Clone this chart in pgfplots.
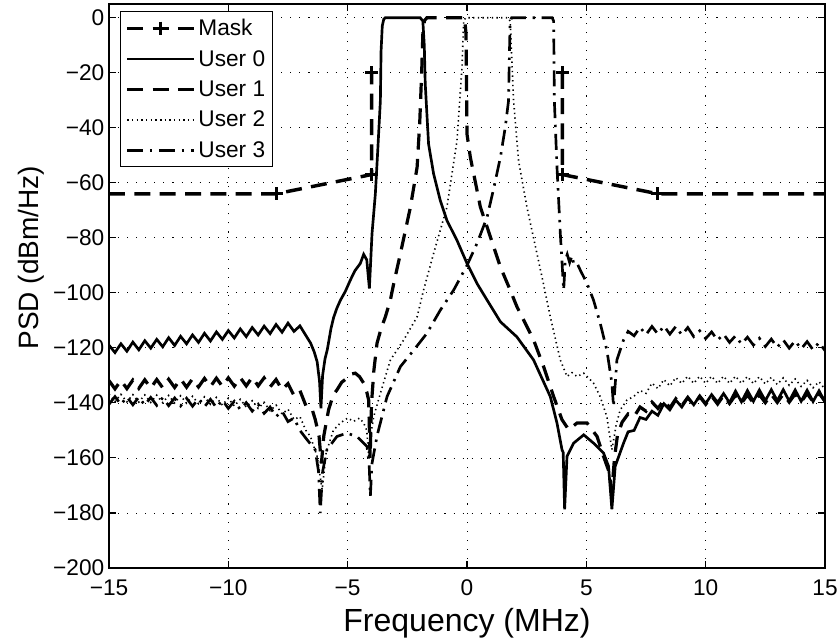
\documentclass[border=0pt]{standalone}
\usepackage{fontspec}
\setmainfont{Liberation Sans}
\usepackage{pgfplots}
\pgfplotsset{compat=1.18}

\begin{document}
\begin{tikzpicture}
\begin{axis}[
    name=ax,
    scale only axis,
    width=537pt, height=423pt,
    xmin=-15, xmax=15, ymin=-200, ymax=5,
    xtick={-15,-10,...,15},
    xticklabels={−15,−10,−5,0,5,10,15},
    ytick={-200,-180,...,0},
    yticklabels={−200,−180,−160,−140,−120,−100,−80,−60,−40,−20,0},
    tick label style={font=\fontsize{17}{20}\selectfont},
    xticklabel style={yshift=-5.5pt},
    tick align=inside, tick pos=both,
    major tick length=5pt,
    every tick/.style={black, line width=0.8pt},
    axis line style={line width=0.9pt},
    grid=major,
    major grid style={black, line width=0.6pt, dash pattern=on 0.8pt off 6pt},
    xlabel={Frequency (MHz)},
    ylabel={PSD (dBm/Hz)},
    xlabel style={font=\fontsize{24}{28}\selectfont, yshift=-2pt},
    ylabel style={font=\fontsize{21}{25}\selectfont, at={(ticklabel cs:0.55)}},
    legend style={at={(0.016,0.987)}, anchor=north west,
        font=\fontsize{17}{20}\selectfont, draw=black, line width=0.7pt,
        row sep=5.5pt, inner sep=3.5pt},
    legend cell align=left,
    legend image code/.code={\draw[mark repeat=2,mark phase=2,#1] plot coordinates {(0pt,0pt) (25pt,0pt) (50pt,0pt)};},
]
\pgfplotsset{
  maskline/.style={black, line width=2.6pt, dash pattern=on 12pt off 7pt, mark=+, mark options={solid, line width=2.2pt, mark size=5pt}},
  u0/.style={black, line width=2pt, solid},
  u1/.style={black, line width=2.4pt, dash pattern=on 12pt off 7pt},
  u2/.style={black, line width=1.2pt, dash pattern=on 1pt off 2.5pt},
  u3/.style={black, line width=2pt, dash pattern=on 12pt off 5pt on 1.8pt off 5pt},
}
\addlegendimage{maskline}

% mask, drawn outside the band only
\addplot[maskline, forget plot, mark indices={2,4,5}] coordinates {
(-15,-64) (-8,-64) (-6,-60.5) (-4,-57) (-4,-20)};
\addplot[maskline, forget plot, mark indices={1,2,4}] coordinates {
(4,-20) (4,-57) (6,-60.5) (8,-64) (15,-64)};

% User 0
\addplot[u0] coordinates {
(-15.00,-119.0) (-14.75,-121.7) (-14.50,-118.5) (-14.25,-121.2) (-14.00,-117.9)
(-13.75,-120.7) (-13.50,-117.4) (-13.25,-120.1) (-13.00,-116.9) (-12.75,-119.6)
(-12.50,-116.3) (-12.25,-119.1) (-12.00,-115.8) (-11.75,-118.5) (-11.50,-115.3)
(-11.25,-118.0) (-11.00,-114.7) (-10.75,-117.5) (-10.50,-114.2) (-10.25,-116.9)
(-10.00,-113.7) (-9.75,-116.4) (-9.50,-113.1) (-9.25,-115.9) (-9.00,-112.6)
(-8.75,-115.3) (-8.50,-112.1) (-8.25,-114.8) (-8.00,-111.5) (-7.75,-114.3)
(-7.50,-111.0) (-7.25,-114.0) (-7.00,-112.0) (-6.75,-115.5) (-6.55,-118.3)
(-6.40,-121.5) (-6.28,-125) (-6.18,-132) (-6.12,-142) (-6.05,-130)
(-5.95,-124) (-5.85,-120.5) (-5.70,-113) (-5.59,-109) (-5.45,-105.5)
(-5.30,-102.6) (-5.10,-99.5) (-4.89,-95.4) (-4.70,-92) (-4.47,-89.3)
(-4.33,-86) (-4.20,-88) (-4.09,-98.4) (-3.98,-78.5) (-3.84,-64)
(-3.74,-48.3) (-3.63,-30.2) (-3.60,-12) (-3.55,-3) (-3.49,-0.6)
(-3.42,0) (-1.96,0) (-1.85,-1.2) (-1.79,-10) (-1.75,-24)
(-1.61,-45.9) (-1.40,-56.7) (-1.12,-66.4) (-0.84,-73.7) (-0.42,-80.9)
(0,-89.3) (0.42,-96.6) (0.84,-102.6) (1.40,-110.5) (2.09,-116)
(2.79,-124.4) (3.49,-137.7) (3.77,-147.3) (3.98,-157) (4.03,-158)
(4.09,-178.7) (4.19,-159.4) (4.47,-154.6) (4.89,-151.6) (5.30,-154.6)
(5.72,-158.2) (5.93,-163) (6.07,-178.7) (6.21,-163) (6.56,-154.6)
(6.75,-150.5) (7.00,-150) (7.25,-145.3) (7.50,-146) (7.75,-143)
(8.00,-144.5) (8.25,-140.3) (8.50,-142.5) (8.75,-139) (9.00,-141.5)
(9.25,-138.1) (9.50,-140.7) (9.75,-137.4) (10.00,-140.2) (10.25,-137)
(10.50,-139.8) (10.75,-136.6) (11.00,-139.9) (11.25,-135.7) (11.50,-139.6)
(11.75,-135.5) (12.00,-139.4) (12.25,-135.3) (12.50,-139.2) (12.75,-135.2)
(13.00,-139.2) (13.25,-135.2) (13.50,-139.3) (13.75,-135.3) (14.00,-139.4)
(14.25,-135.4) (14.50,-139.5) (14.75,-135.6) (15.00,-139.7)};

% User 1
\addplot[u1] coordinates {
(-15.00,-131.9) (-14.75,-134.9) (-14.50,-131.8) (-14.25,-134.8) (-14.00,-131.7)
(-13.75,-134.7) (-13.50,-131.6) (-13.25,-134.6) (-13.00,-131.5) (-12.75,-134.5)
(-12.50,-131.4) (-12.25,-134.4) (-12.00,-131.3) (-11.75,-134.3) (-11.50,-131.2)
(-11.25,-134.2) (-11.00,-131.1) (-10.75,-134.1) (-10.50,-131.0) (-10.25,-134.0)
(-10.00,-130.9) (-9.75,-133.9) (-9.50,-130.8) (-9.25,-133.8) (-9.00,-130.7)
(-8.75,-133.8) (-8.50,-130.9) (-8.25,-134.2) (-8.00,-131.5) (-7.75,-135.2)
(-7.50,-133) (-7.25,-137.3) (-7.00,-135.5) (-6.75,-141) (-6.50,-142)
(-6.36,-146) (-6.20,-152) (-6.10,-162) (-6.00,-152) (-5.80,-142.5)
(-5.60,-137) (-5.45,-135.3) (-5.25,-132.5) (-5.03,-131) (-4.85,-129.5)
(-4.68,-129.2) (-4.50,-130.5) (-4.33,-132.8) (-4.20,-136) (-4.12,-139)
(-4.06,-160) (-4.00,-140) (-3.90,-128) (-3.77,-118.3) (-3.60,-113)
(-3.42,-108.7) (-3.21,-102.6) (-3.07,-96.6) (-2.79,-85.7) (-2.37,-68.8)
(-2.09,-54.3) (-1.98,-38) (-1.90,-20) (-1.85,-6) (-1.78,-1)
(-1.68,0) (-0.10,0) (-0.04,-6) (0,-42.3) (0.14,-50.7)
(0.56,-68.8) (0.84,-76) (1.40,-90.6) (1.81,-99) (2.09,-105)
(2.79,-117.1) (3.21,-126.8) (3.63,-137.7) (3.98,-146.1) (4.26,-149.7)
(4.61,-147.3) (5.03,-147.3) (5.45,-152.2) (5.72,-159.4) (5.95,-165)
(6.07,-172) (6.18,-160) (6.30,-152) (6.50,-147)
(6.75,-144) (7.00,-145) (7.25,-141.5) (7.50,-143) (7.75,-139.7)
(8.00,-142) (8.25,-139) (8.50,-141.8) (8.75,-138.5) (9.00,-141)
(9.25,-138) (9.50,-140.8) (9.75,-137.7) (10.00,-140.5) (10.25,-137.5)
(10.50,-140.4) (10.75,-137.3) (11.00,-140.2) (11.25,-137.2) (11.50,-140.1)
(11.75,-137.1) (12.00,-140) (12.25,-137) (12.50,-139.9) (12.75,-136.9)
(13.00,-139.8) (13.25,-136.8) (13.50,-139.7) (13.75,-136.7) (14.00,-139.6)
(14.25,-136.6) (14.50,-139.5) (14.75,-136.5) (15.00,-139.4)};

% User 2
\addplot[u2] coordinates {
(-15.00,-136.8) (-14.75,-139.5) (-14.50,-136.9) (-14.25,-139.6) (-14.00,-137.0)
(-13.75,-139.7) (-13.50,-137.1) (-13.25,-139.8) (-13.00,-137.2) (-12.75,-139.9)
(-12.50,-137.3) (-12.25,-140.0) (-12.00,-137.4) (-11.75,-140.1) (-11.50,-137.6)
(-11.25,-140.3) (-11.00,-137.8) (-10.75,-140.5) (-10.50,-138.0) (-10.25,-140.8)
(-10.00,-138.3) (-9.75,-141.1) (-9.50,-138.7) (-9.25,-141.5) (-9.00,-139.2)
(-8.75,-142.0) (-8.50,-139.8) (-8.25,-142.8) (-8.00,-140.8) (-7.75,-144.0)
(-7.50,-142.3) (-7.25,-146) (-7.00,-145) (-6.75,-150) (-6.56,-152.2)
(-6.28,-159.4) (-6.07,-171.5) (-5.90,-158) (-5.60,-150) (-5.31,-147.3)
(-5.00,-145.5) (-4.75,-146.7) (-4.50,-145.5) (-4.33,-147.3) (-4.20,-150)
(-4.12,-159.4) (-4.00,-150) (-3.91,-145) (-3.63,-136.5) (-3.21,-124.4)
(-2.65,-117.1) (-2.09,-108.7) (-1.82,-99) (-1.40,-85.7) (-0.84,-68.8)
(-0.42,-44.7) (-0.21,-18.1) (-0.14,-1) (-0.05,0) (1.72,0)
(1.81,-1.2) (1.95,-30) (2.16,-52) (2.51,-68.8) (2.93,-85.7)
(3.21,-97) (3.49,-108.7) (3.91,-124.4) (4.19,-130.4) (4.40,-129)
(4.61,-130.4) (4.89,-129.2) (5.10,-131) (5.30,-132.8) (5.58,-137.7)
(5.86,-145) (6.07,-157) (6.25,-148) (6.42,-142.5) (6.70,-139)
(6.98,-137.7) (7.25,-135.5) (7.50,-136.5) (7.75,-132.8) (8.00,-134.8)
(8.25,-131.5) (8.50,-133.8) (8.75,-130.8) (9.00,-132.9) (9.25,-130.3)
(9.50,-132.9) (9.75,-130.3) (10.00,-132.9) (10.25,-130.3) (10.50,-132.9)
(10.75,-130.3) (11.00,-132.9) (11.25,-130.3) (11.50,-132.9) (11.75,-130.4)
(12.00,-133.0) (12.25,-130.5) (12.50,-133.1) (12.75,-130.7) (13.00,-133.3)
(13.25,-130.9) (13.50,-133.6) (13.75,-131.3) (14.00,-134.0) (14.25,-131.8)
(14.50,-134.5) (14.75,-132.3) (15.00,-135.0)};

% User 3
\addplot[u3] coordinates {
(-15.00,-140.5) (-14.75,-137.7) (-14.50,-140.6) (-14.25,-137.8) (-14.00,-140.7)
(-13.75,-137.9) (-13.50,-140.8) (-13.25,-138.0) (-13.00,-140.9) (-12.75,-138.1)
(-12.50,-141.0) (-12.25,-138.2) (-12.00,-141.1) (-11.75,-138.3) (-11.50,-141.2)
(-11.25,-138.5) (-11.00,-141.4) (-10.75,-138.7) (-10.50,-141.7) (-10.25,-139.0)
(-10.00,-142.0) (-9.75,-139.4) (-9.50,-142.4) (-9.25,-139.9) (-9.00,-143.0)
(-8.75,-140.5) (-8.50,-143.8) (-8.25,-141.5) (-8.00,-145.0) (-7.75,-143)
(-7.50,-146.8) (-7.25,-145.5) (-7.00,-150) (-6.70,-153.4) (-6.36,-157)
(-6.22,-165) (-6.15,-180) (-6.05,-165) (-5.87,-157) (-5.45,-152.2)
(-5.03,-151) (-4.61,-152.2) (-4.19,-155.8) (-4.10,-162) (-4.05,-174)
(-3.98,-162) (-3.77,-152) (-3.35,-137.7) (-2.79,-126.8) (-2.23,-120.8)
(-1.68,-114.7) (-1.12,-106.3) (-0.56,-99) (0,-90) (0.42,-82)
(0.84,-72.5) (1.12,-62) (1.40,-50.7) (1.60,-40) (1.74,-30.2)
(1.78,-12) (1.81,-1.2) (1.87,0) (3.57,0) (3.63,-1.2)
(3.66,-30) (3.77,-54.3) (3.91,-78.5) (4.05,-99) (4.12,-88)
(4.20,-86) (4.30,-89) (4.40,-86.5) (4.47,-89.3) (4.60,-89)
(4.75,-91.8) (5.03,-96.6) (5.30,-102.6) (5.58,-111) (5.86,-120.8)
(6.07,-132.8) (6.14,-141.3) (6.22,-132) (6.28,-124.4) (6.56,-117.1)
(6.75,-114.0) (7.00,-115.6) (7.25,-112.5) (7.50,-115.2) (7.75,-112.2)
(8.00,-115.0) (8.25,-112.0) (8.50,-115.0) (8.75,-112.2) (9.00,-115.3)
(9.25,-112.6) (9.50,-115.9) (9.75,-113.8) (10.00,-116.6) (10.25,-114.2)
(10.50,-117.2) (10.75,-115.0) (11.00,-118.0) (11.25,-115.6) (11.50,-118.6)
(11.75,-116.1) (12.00,-119.0) (12.25,-116.5) (12.50,-119.5) (12.75,-116.8)
(13.00,-119.8) (13.25,-117.1) (13.50,-120.1) (13.75,-117.4) (14.00,-120.4)
(14.25,-117.7) (14.50,-120.7) (14.75,-118.0) (15.00,-121.0)};

\legend{Mask, User 0, User 1, User 2, User 3}
\end{axis}
\pgfresetboundingbox
\path[use as bounding box] ([xshift=-81.75pt,yshift=-54.75pt]ax.south west) rectangle ([xshift=9.75pt,yshift=3pt]ax.north east);
\end{tikzpicture}
\end{document}
